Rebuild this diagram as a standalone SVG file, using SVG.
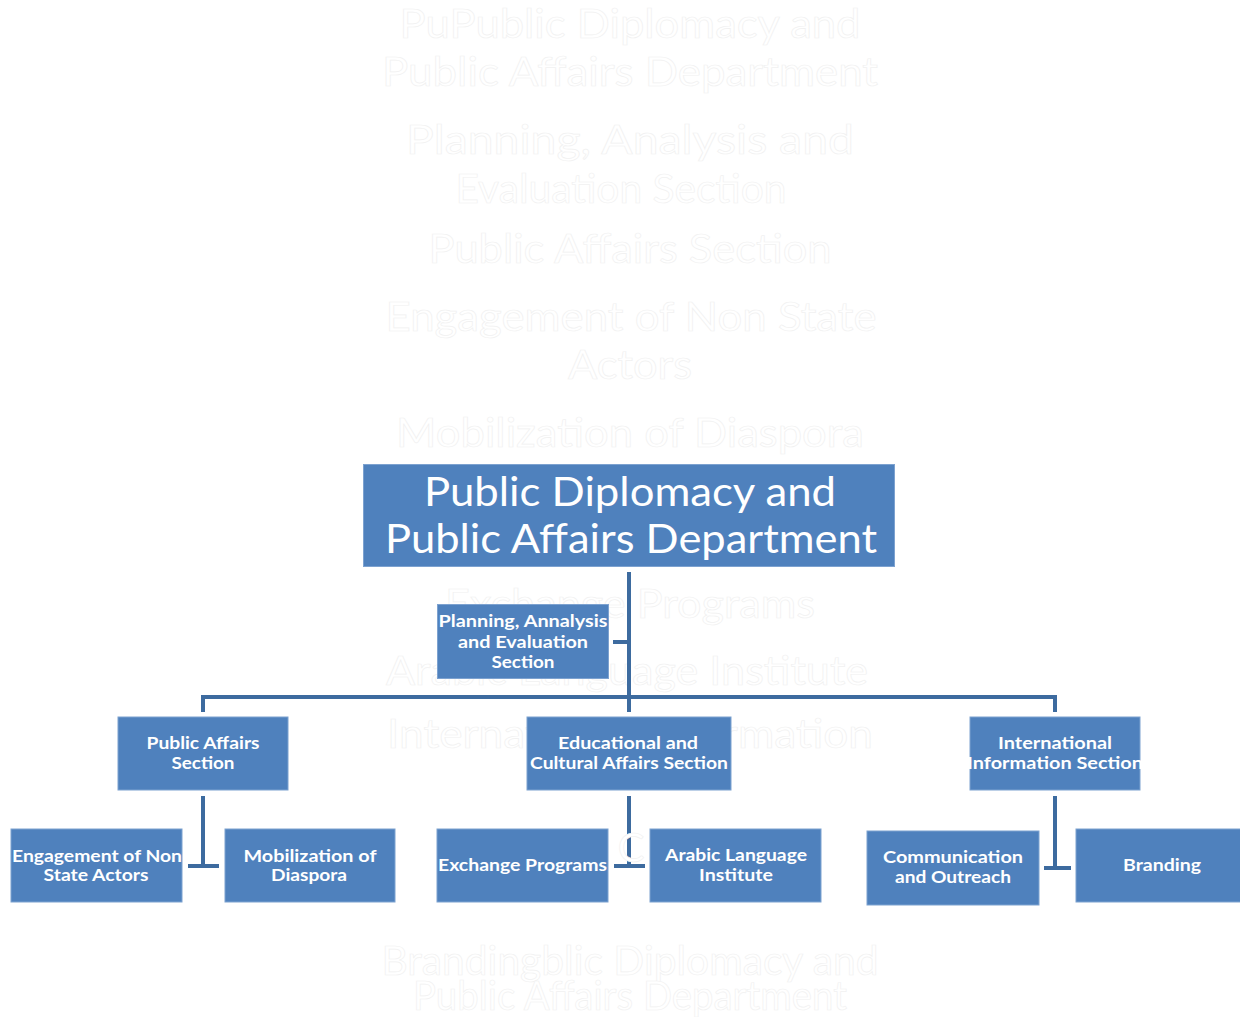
<svg xmlns="http://www.w3.org/2000/svg" width="1240" height="1017" viewBox="0 0 1240 1017">
<style>
.bg{fill:#ffffff}
.ghost{font-family:Lato,"Liberation Sans",sans-serif;font-size:40px;fill:#ffffff;stroke:#f1f1f1;stroke-width:0.7;text-anchor:middle}
.box{fill:#4f81bd;stroke:#7da2d0;stroke-width:1}
.t{font-family:Lato,"Liberation Sans",sans-serif;font-weight:bold;font-size:17.5px;fill:#ffffff;text-anchor:middle}
.title{font-family:Lato,"Liberation Sans",sans-serif;font-size:40px;fill:#ffffff;text-anchor:middle}
.c{fill:none;stroke:#3d6b9f;stroke-width:4}
</style>
<rect class="bg" x="0" y="0" width="1240" height="1017"/>
<g id="ghost-text">
<text class="ghost" x="630" y="38" textLength="461" lengthAdjust="spacingAndGlyphs">PuPublic Diplomacy and</text>
<text class="ghost" x="630" y="86" textLength="496" lengthAdjust="spacingAndGlyphs">Public Affairs Department</text>
<text class="ghost" x="630" y="154" textLength="448" lengthAdjust="spacingAndGlyphs">Planning, Analysis and</text>
<text class="ghost" x="621" y="203" textLength="331" lengthAdjust="spacingAndGlyphs">Evaluation Section</text>
<text class="ghost" x="630" y="263" textLength="403" lengthAdjust="spacingAndGlyphs">Public Affairs Section</text>
<text class="ghost" x="631" y="331" textLength="491" lengthAdjust="spacingAndGlyphs">Engagement of Non State</text>
<text class="ghost" x="630" y="379" textLength="124" lengthAdjust="spacingAndGlyphs">Actors</text>
<text class="ghost" x="630" y="447" textLength="468" lengthAdjust="spacingAndGlyphs">Mobilization of Diaspora</text>
<text class="ghost" x="630" y="618" textLength="370" lengthAdjust="spacingAndGlyphs">Exchange Programs</text>
<text class="ghost" x="627" y="685" textLength="482" lengthAdjust="spacingAndGlyphs">Arabic Language Institute</text>
<text class="ghost" x="630" y="748" textLength="486" lengthAdjust="spacingAndGlyphs">International Information</text>
<text class="ghost" x="630" y="975" textLength="497" lengthAdjust="spacingAndGlyphs">Brandingblic Diplomacy and</text>
<text class="ghost" x="630" y="1010" textLength="434" lengthAdjust="spacingAndGlyphs">Public Affairs Department</text>
</g>
<g id="connectors">
<path class="c" d="M629 572 V712"/>
<path class="c" d="M613 642 H629"/>
<path class="c" d="M203 712 V697 H1055 V712"/>
<path class="c" d="M203 796 V866 M188 866 H219"/>
<path class="c" d="M629 796 V866 M614 866 H645"/>
<path class="c" d="M1055 796 V868 M1044 868 H1071"/>
</g>
<text class="ghost" x="631" y="862" font-size="34">C</text>
<g id="node-department">
<rect class="box" x="363.5" y="464.5" width="531" height="102"/>
<text class="title" x="630" y="506" textLength="412" lengthAdjust="spacingAndGlyphs">Public Diplomacy and</text>
<text class="title" x="631" y="553" textLength="492" lengthAdjust="spacingAndGlyphs">Public Affairs Department</text>
</g>
<g id="node-planning">
<rect class="box" x="437.5" y="604.5" width="171" height="74"/>
<text class="t" x="523" y="627" textLength="169" lengthAdjust="spacingAndGlyphs">Planning, Annalysis</text>
<text class="t" x="523" y="647.5" textLength="130" lengthAdjust="spacingAndGlyphs">and Evaluation</text>
<text class="t" x="523" y="668" textLength="63" lengthAdjust="spacingAndGlyphs">Section</text>
</g>
<g id="node-public-affairs">
<rect class="box" x="118" y="717" width="170" height="73"/>
<text class="t" x="203" y="749" textLength="113" lengthAdjust="spacingAndGlyphs">Public Affairs</text>
<text class="t" x="203" y="769" textLength="63" lengthAdjust="spacingAndGlyphs">Section</text>
</g>
<g id="node-educational">
<rect class="box" x="527" y="717" width="204" height="73"/>
<text class="t" x="628" y="749" textLength="140" lengthAdjust="spacingAndGlyphs">Educational and</text>
<text class="t" x="629" y="769" textLength="198" lengthAdjust="spacingAndGlyphs">Cultural Affairs Section</text>
</g>
<g id="node-international">
<rect class="box" x="970" y="717" width="170" height="73"/>
<text class="t" x="1055" y="749" textLength="114" lengthAdjust="spacingAndGlyphs">International</text>
<text class="t" x="1055" y="769" textLength="176" lengthAdjust="spacingAndGlyphs">Information Section</text>
</g>
<g id="node-engagement">
<rect class="box" x="11" y="829" width="171" height="73"/>
<text class="t" x="97" y="862" textLength="170" lengthAdjust="spacingAndGlyphs">Engagement of Non</text>
<text class="t" x="96" y="881" textLength="105" lengthAdjust="spacingAndGlyphs">State Actors</text>
</g>
<g id="node-mobilization">
<rect class="box" x="225" y="829" width="170" height="73"/>
<text class="t" x="310" y="862" textLength="133" lengthAdjust="spacingAndGlyphs">Mobilization of</text>
<text class="t" x="309" y="881" textLength="76" lengthAdjust="spacingAndGlyphs">Diaspora</text>
</g>
<g id="node-exchange">
<rect class="box" x="437" y="829" width="171" height="73"/>
<text class="t" x="522.5" y="871" textLength="169" lengthAdjust="spacingAndGlyphs">Exchange Programs</text>
</g>
<g id="node-arabic">
<rect class="box" x="650" y="829" width="171" height="73"/>
<text class="t" x="736" y="861" textLength="142" lengthAdjust="spacingAndGlyphs">Arabic Language</text>
<text class="t" x="736" y="881" textLength="74" lengthAdjust="spacingAndGlyphs">Institute</text>
</g>
<g id="node-communication">
<rect class="box" x="867" y="831" width="172" height="74"/>
<text class="t" x="953" y="863" textLength="140" lengthAdjust="spacingAndGlyphs">Communication</text>
<text class="t" x="953" y="883" textLength="116" lengthAdjust="spacingAndGlyphs">and Outreach</text>
</g>
<g id="node-branding">
<rect class="box" x="1076" y="829" width="168" height="73"/>
<text class="t" x="1162" y="871" textLength="78" lengthAdjust="spacingAndGlyphs">Branding</text>
</g>
</svg>
